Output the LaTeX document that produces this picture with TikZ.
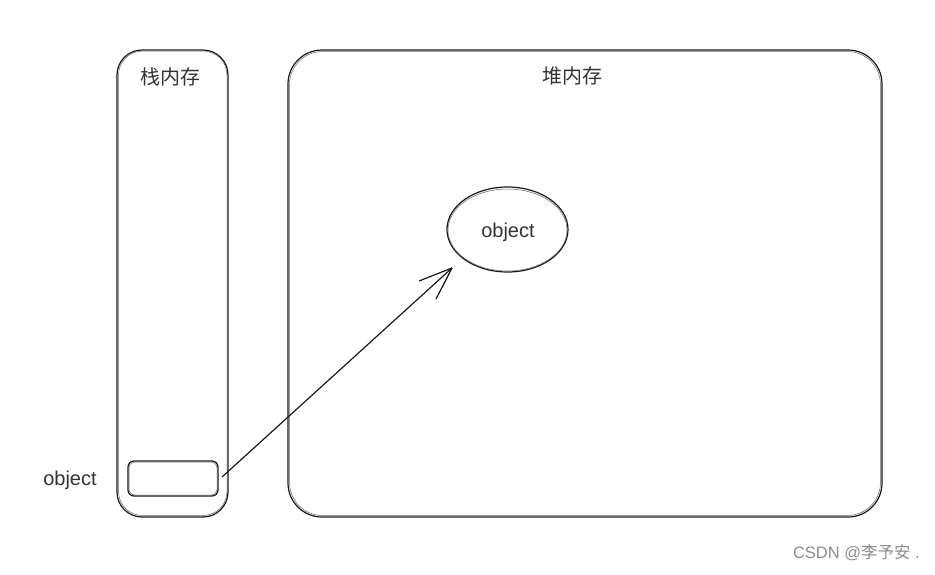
\documentclass[tikz,border=0pt]{standalone}
\usepackage{fontspec}
\setmainfont{Liberation Sans}
\newfontfamily\cjk{Noto Sans CJK SC}
\usetikzlibrary{arrows.meta,shapes.geometric}
\begin{document}
\begin{tikzpicture}[x=1pt,y=-1pt,
  sketch/.style={draw=black!90,line width=1.2pt},
  sketchb/.style={draw=black!60,line width=0.5pt},
  lbl/.style={font=\fontsize{20}{22}\selectfont,text=black!80,inner sep=0pt},
  clbl/.style={font=\cjk\fontsize{20}{22}\selectfont,text=black!80,inner sep=0pt}]
\useasboundingbox[fill=white] (0,0) rectangle (935,574);
% stack box
\draw[sketch,rounded corners=25] (117,50) rectangle (228,517);
\draw[sketchb,rounded corners=24] (118.5,51) rectangle (227,515.5);
\node[clbl] (stacklbl) at (170,77) {栈内存};
% heap box
\draw[sketch,rounded corners=34] (288,50) rectangle (882,517);
\draw[sketchb,rounded corners=33] (289.5,51.5) rectangle (880.5,515.5);
\node[clbl] (heaplbl) at (572,76) {堆内存};
% object ellipse
\node[draw=black!90,line width=1.2pt,ellipse,minimum width=121pt,minimum height=85pt,inner sep=0pt] (obj) at (507.5,229.5) {};
\draw[sketchb] (507.5,230) ellipse [x radius=59.5, y radius=41];
\node[lbl] (objtxt) at (508,232) {object};
% small reference box
\draw[sketch,rounded corners=6] (128,461) rectangle (218,496);
\draw[sketchb,rounded corners=6] (129,462) rectangle (217,495);
\coordinate (ref) at (222,477);
\node[draw=none,minimum width=90pt,minimum height=35pt] (refbox) at (173,478.5) {};
\node[lbl] (reflbl) at (70,480) {object};
% arrow
\coordinate (tip) at (452,268);
\draw[black!90,line width=1.2pt] (ref) -- (tip);
\draw[black!90,line width=1.2pt] (tip) -- (419,281);
\draw[black!90,line width=1.2pt] (tip) -- (436,299);
\draw[black!90,line width=0.6pt] (tip) -- (443,286);
% watermark
\node[font=\fontsize{16.5}{18}\selectfont,text=black!45,inner sep=0pt,anchor=east] (wm) at (920,553) {CSDN @{\cjk 李予安} .};
\end{tikzpicture}
\end{document}
